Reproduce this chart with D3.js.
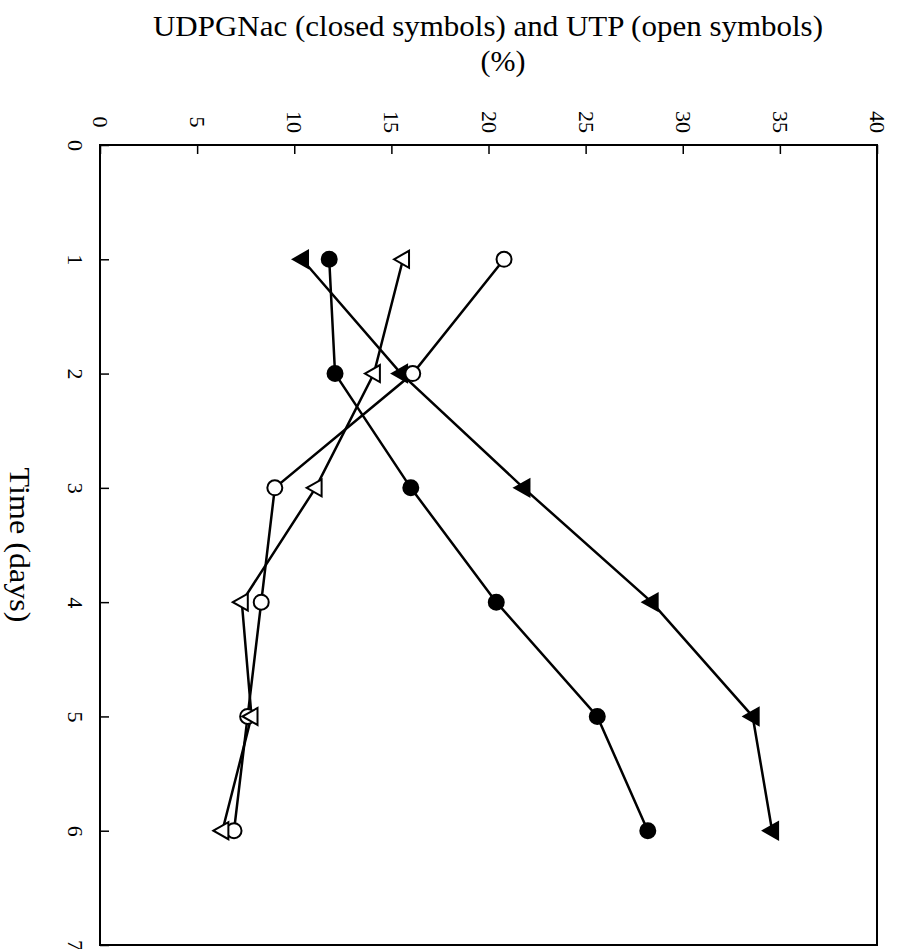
<!DOCTYPE html>
<html><head><meta charset="utf-8">
<script src="https://cdn.jsdelivr.net/npm/d3@7"></script>
<style>body{margin:0;background:#fff}svg{display:block}</style>
</head><body>
<script>
const days = [1, 2, 3, 4, 5, 6];
const udpgTri = [10.4, 15.5, 21.8, 28.4, 33.6, 34.6];
const udpgCirc = [11.8, 12.1, 16.0, 20.4, 25.6, 28.2];
const utpCirc = [20.8, 16.1, 9.0, 8.3, 7.6, 6.9];
const utpTri = [15.6, 14.1, 11.1, 7.3, 7.8, 6.3];
const pctTicks = [0, 5, 10, 15, 20, 25, 30, 35, 40];
const dayTicks = [0, 1, 2, 3, 4, 5, 6, 7];

const W = 897, H = 949;
const svg = d3.select("body").append("svg").attr("width", W).attr("height", H);
const x = d3.scaleLinear().domain([0, 40]).range([100, 877]);
const y = d3.scaleLinear().domain([0, 7]).range([145, 945]);
const font = "'Liberation Serif', 'Times New Roman', serif";

// frame
svg.append("rect").attr("x", x(0)).attr("y", y(0)).attr("width", x(40) - x(0)).attr("height", y(7) - y(0))
  .attr("fill", "none").attr("stroke", "#000").attr("stroke-width", 2);

// top axis (percent), inward ticks
const topAxis = d3.axisTop(x).tickValues(pctTicks).tickSizeInner(-9).tickSizeOuter(0).tickFormat(d3.format("d"));
const gt = svg.append("g").attr("transform", `translate(0,${y(0)})`).call(topAxis);
gt.select(".domain").remove();
gt.selectAll(".tick line").attr("stroke-width", 1.5);
gt.selectAll(".tick text").attr("font-family", font).attr("font-size", 22).attr("fill", "#000")
  .attr("text-anchor", "middle").attr("dy", 0)
  .attr("transform", "translate(0,-23) rotate(90)").attr("x", 0).attr("y", 0).attr("dominant-baseline", "central");

// left axis (days), inward ticks
const leftAxis = d3.axisLeft(y).tickValues(dayTicks).tickSizeInner(-9).tickSizeOuter(0).tickFormat(d3.format("d"));
const gl = svg.append("g").attr("transform", `translate(${x(0)},0)`).call(leftAxis);
gl.select(".domain").remove();
gl.selectAll(".tick line").attr("stroke-width", 1.5);
gl.selectAll(".tick text").attr("font-family", font).attr("font-size", 22).attr("fill", "#000")
  .attr("text-anchor", "middle").attr("dy", 0)
  .attr("transform", "translate(-25,0) rotate(90)").attr("x", 0).attr("y", 0).attr("dominant-baseline", "central");

// titles
svg.append("text").attr("x", 488).attr("y", 36).attr("text-anchor", "middle")
  .attr("font-family", font).attr("font-size", 30)
  .attr("textLength", 670).attr("lengthAdjust", "spacingAndGlyphs")
  .text("UDPGNac (closed symbols) and UTP (open symbols)");
svg.append("text").attr("x", 503).attr("y", 71).attr("text-anchor", "middle")
  .attr("font-family", font).attr("font-size", 30).text("(%)");
svg.append("text").attr("transform", `translate(20,545) rotate(90)`).attr("text-anchor", "middle")
  .attr("dominant-baseline", "central")
  .attr("font-family", font).attr("font-size", 29)
  .attr("textLength", 155).attr("lengthAdjust", "spacingAndGlyphs")
  .text("Time (days)");

const series = [
  { vals: udpgTri, shape: "tri", fill: "#000" },
  { vals: udpgCirc, shape: "circ", fill: "#000" },
  { vals: utpCirc, shape: "circ", fill: "#fff" },
  { vals: utpTri, shape: "tri", fill: "#fff" }
];
const line = d3.line().x(d => x(d.v)).y(d => y(d.t));
series.forEach(s => {
  const pts = days.map((t, i) => ({ t, v: s.vals[i] }));
  svg.append("path").datum(pts).attr("d", line).attr("fill", "none").attr("stroke", "#000").attr("stroke-width", 2.5);
});
series.forEach(s => {
  const pts = days.map((t, i) => ({ t, v: s.vals[i] }));
  const g = svg.append("g");
  if (s.shape === "circ") {
    g.selectAll("circle").data(pts).join("circle").attr("cx", d => x(d.v)).attr("cy", d => y(d.t)).attr("r", 7.5)
      .attr("fill", s.fill).attr("stroke", "#000").attr("stroke-width", 2);
  } else {
    g.selectAll("path").data(pts).join("path")
      .attr("d", d => { const cx = x(d.v), cy = y(d.t); return `M${cx - 9},${cy} L${cx + 6},${cy - 8.5} L${cx + 6},${cy + 8.5} Z`; })
      .attr("fill", s.fill).attr("stroke", "#000").attr("stroke-width", 2).attr("stroke-linejoin", "miter");
  }
});
</script>
</body></html>
